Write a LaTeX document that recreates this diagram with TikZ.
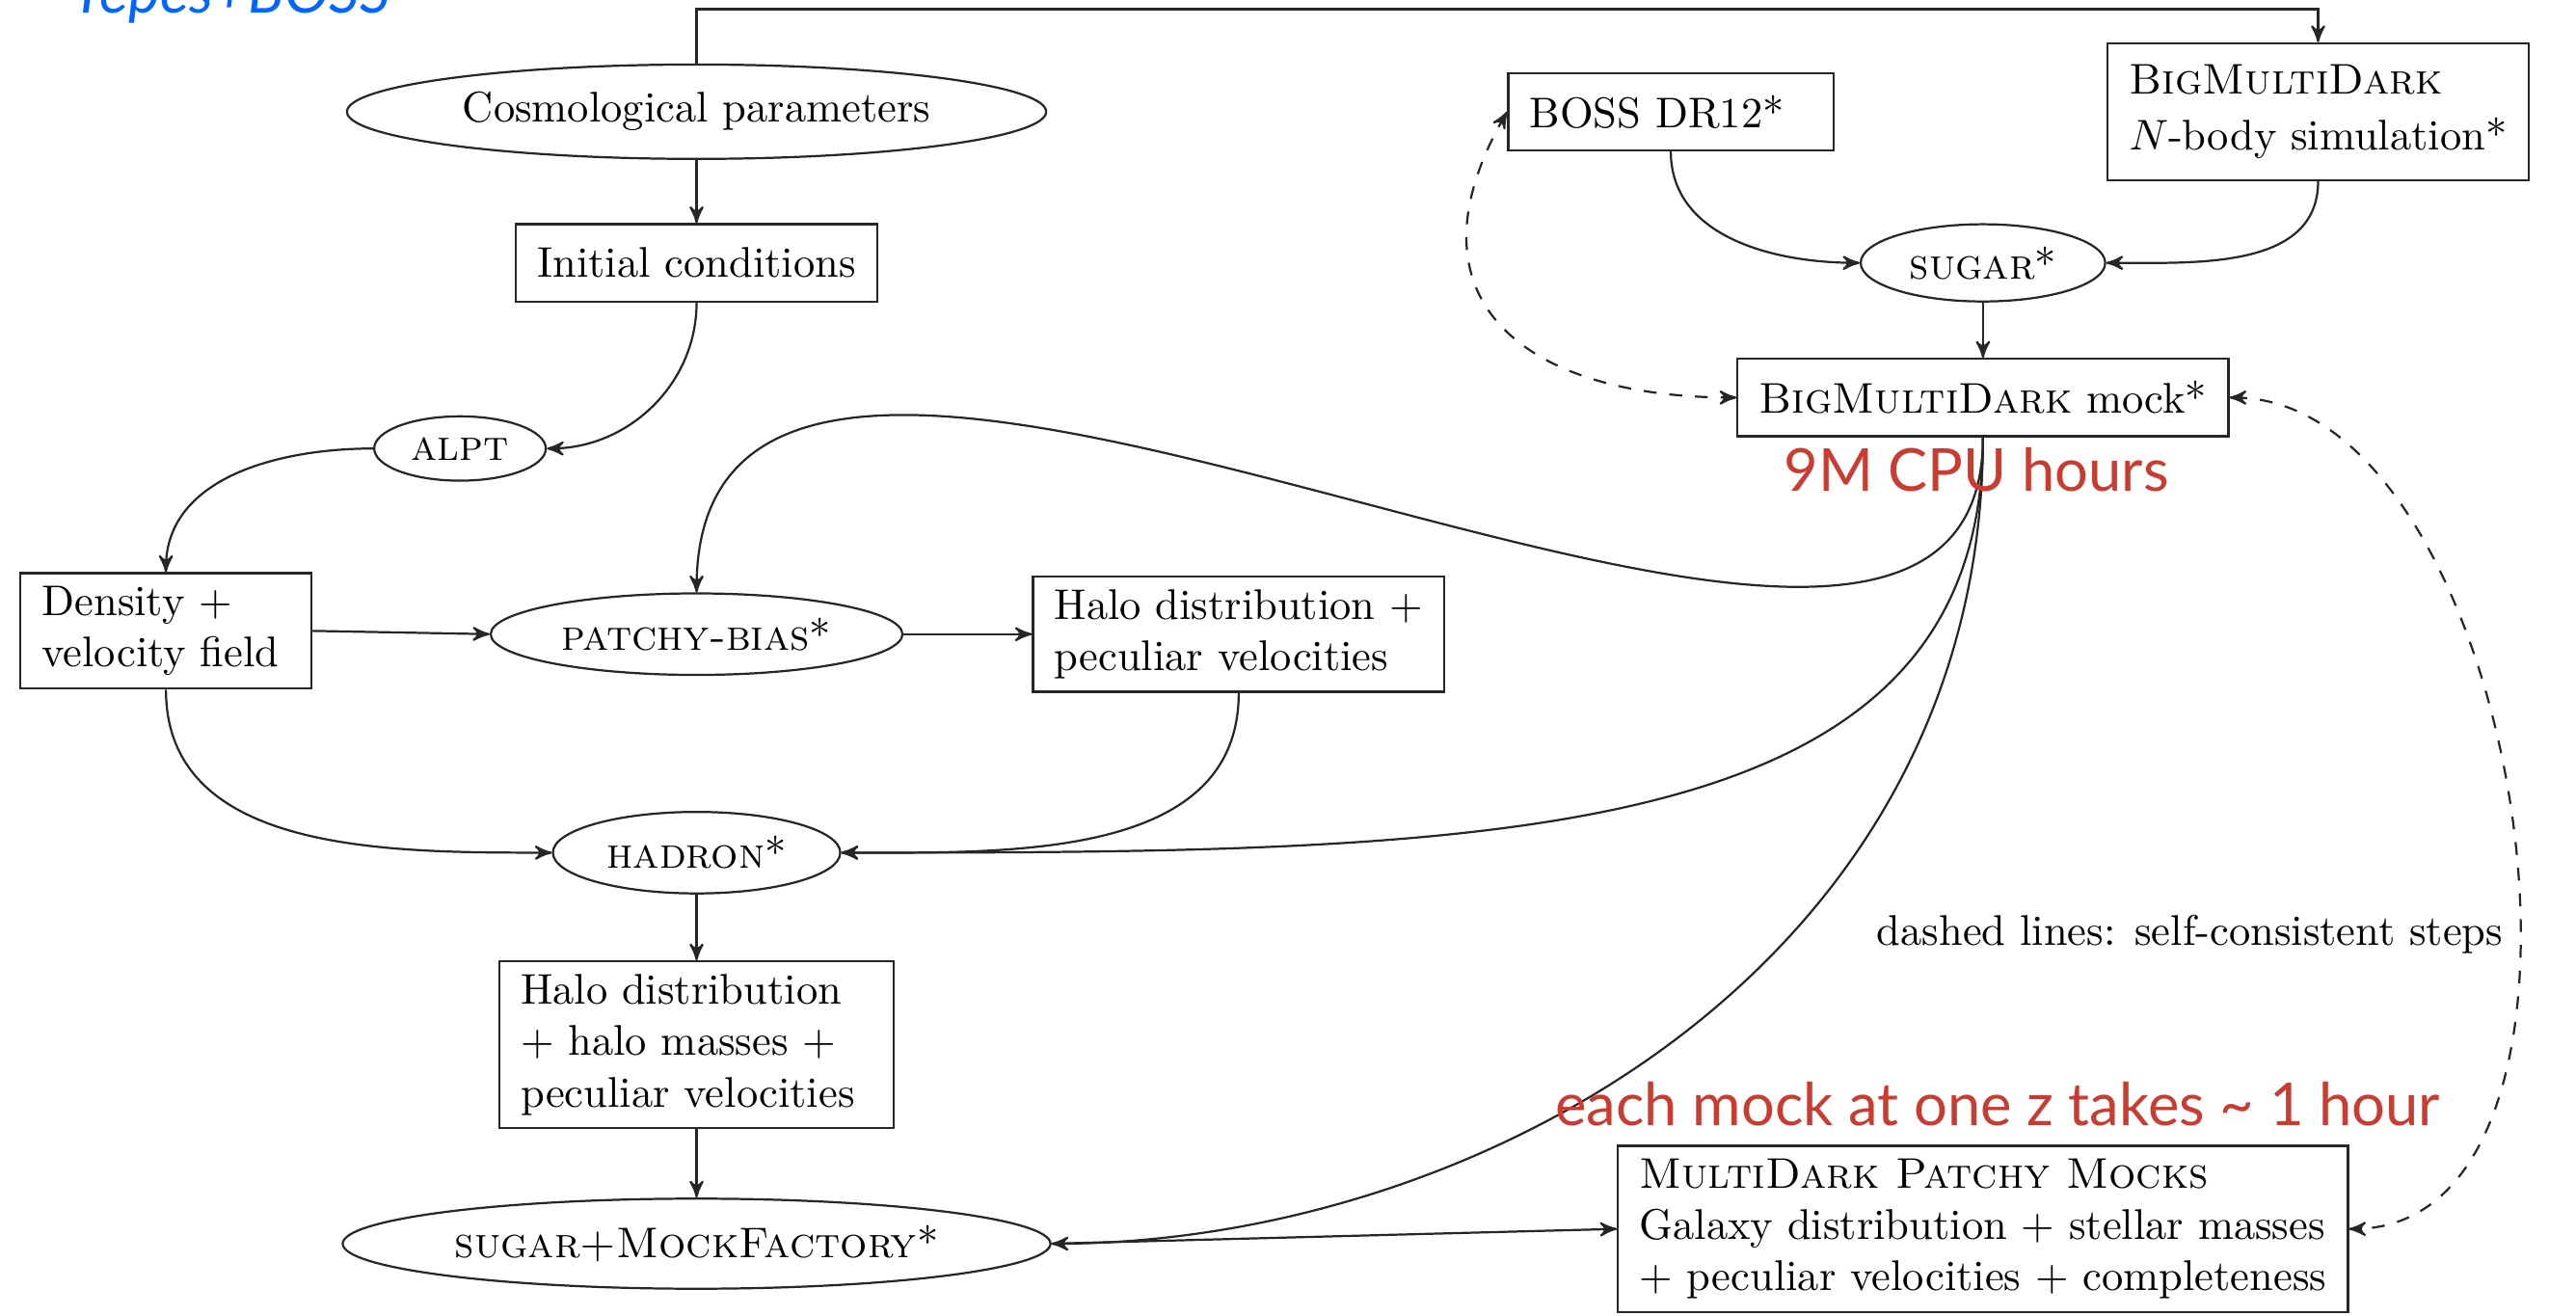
\documentclass[tikz,border=0pt]{standalone}
\usepackage{fontspec}
\usepackage{xcolor}
\usepackage{tikz}
\newfontfamily\notefont{Lato}
\usetikzlibrary{arrows,shapes}
\definecolor{notered}{RGB}{200,60,50}
\definecolor{noteblue}{RGB}{0,102,255}

\begin{document}
\begin{tikzpicture}[x=0.383pt,y=-0.383pt,
line width=0.5pt, >=stealth', draw=black!85,
box/.style={draw=black!85, rectangle, align=left,
inner xsep=5pt, inner ysep=3pt, minimum height=18pt},
oval/.style={draw=black!85, ellipse, inner sep=1pt},
note/.style={text=notered, font=\notefont\fontsize{13.8}{16}\selectfont} ]
\useasboundingbox (0,0) rectangle (1568,801);
\node[anchor=base west, text=noteblue,
  font=\notefont\itshape\fontsize{14}{16}\selectfont] (title) at (34,8) {Yepes+BOSS};
\node[oval, minimum width=163pt, minimum height=22pt] (cosmo) at (424,68) {Cosmological parameters};
\node[box] (init) at (424,160) {Initial conditions};
\node[oval, minimum width=40pt, minimum height=15pt] (alpt) at (280,273) {\textsc{alpt}};
\node[box, text width=57.8pt] (dens) at (101,384) {Density +\\velocity field};
\node[oval, minimum width=96pt, minimum height=19pt] (patchy) at (424,386) {\textsc{patchy-bias}*};
\node[box] (halo) at (754,386) {Halo distribution +\\peculiar velocities};
\node[oval, minimum width=67pt, minimum height=19pt] (hadron) at (424,519) {\textsc{hadron}*};
\node[box, text width=82pt] (halomass) at (424,636) {Halo distribution\\+ halo masses +\\peculiar velocities};
\node[oval, minimum width=165pt, minimum height=21pt] (mockfac) at (424,757) {\textsc{sugar+MockFactory}*};
\node[box, text width=65.8pt] (boss) at (1017,68) {BOSS DR12*};
\node[box, inner ysep=5pt] (nbody) at (1411,68) {\textsc{BigMultiDark}\\[1pt]$N$-body simulation*};
\node[oval, minimum width=57pt, minimum height=18pt] (sugar) at (1207,160) {\textsc{sugar}*};
\node[box] (bmdmock) at (1207,242) {\textsc{BigMultiDark} mock*};
\node[box] (patchymocks) at (1207,748) {\textsc{MultiDark Patchy Mocks}\\Galaxy distribution + stellar masses\\+ peculiar velocities + completeness};
\node (legend) at (1333,569) {dashed lines: self-consistent steps};
\draw[->] (cosmo.north) -- ++(0,-33) -| (nbody.north);
\draw[->] (cosmo) -- (init);
\draw[->] (init.south) to[out=-90,in=0] (alpt.east);
\draw[->] (alpt.west) to[out=180,in=90] (dens.north);
\draw[->] (dens.east) -- (patchy.west);
\draw[->] (patchy.east) -- (halo.west);
\draw[->] (dens.south) to[out=-90,in=180] (hadron.west);
\draw[->] (halo.south) to[out=-90,in=0] (hadron.east);
\draw[->] (hadron) -- (halomass);
\draw[->] (halomass) -- (mockfac);
\draw[->] (mockfac.east) -- (patchymocks.west);
\draw[->] (boss.south) to[out=-90,in=180] (sugar.west);
\draw[->] (nbody.south) to[out=-90,in=0] (sugar.east);
\draw[->] (sugar) -- (bmdmock);
\draw[->] (bmdmock.south) .. controls +(0,285) and +(0,-313) .. (patchy.north);
\draw[->] (bmdmock.south) .. controls +(0,250) and +(400,0) .. (hadron.east);
\draw[->] (bmdmock.south) .. controls +(0,320) and +(260,0) .. (mockfac.east);
\draw[<->, dashed] (boss.west) to[out=240,in=180,looseness=1.5] (bmdmock.west);
\draw[<->, dashed] (bmdmock.east) to[out=0,in=0,looseness=0.9] (patchymocks.east);
\node[note] (cpu) at (1203,286) {9M CPU hours};
\node[note] (permock) at (1216,672) {each mock at one z takes \textasciitilde{} 1 hour};
\end{tikzpicture}
\end{document}
